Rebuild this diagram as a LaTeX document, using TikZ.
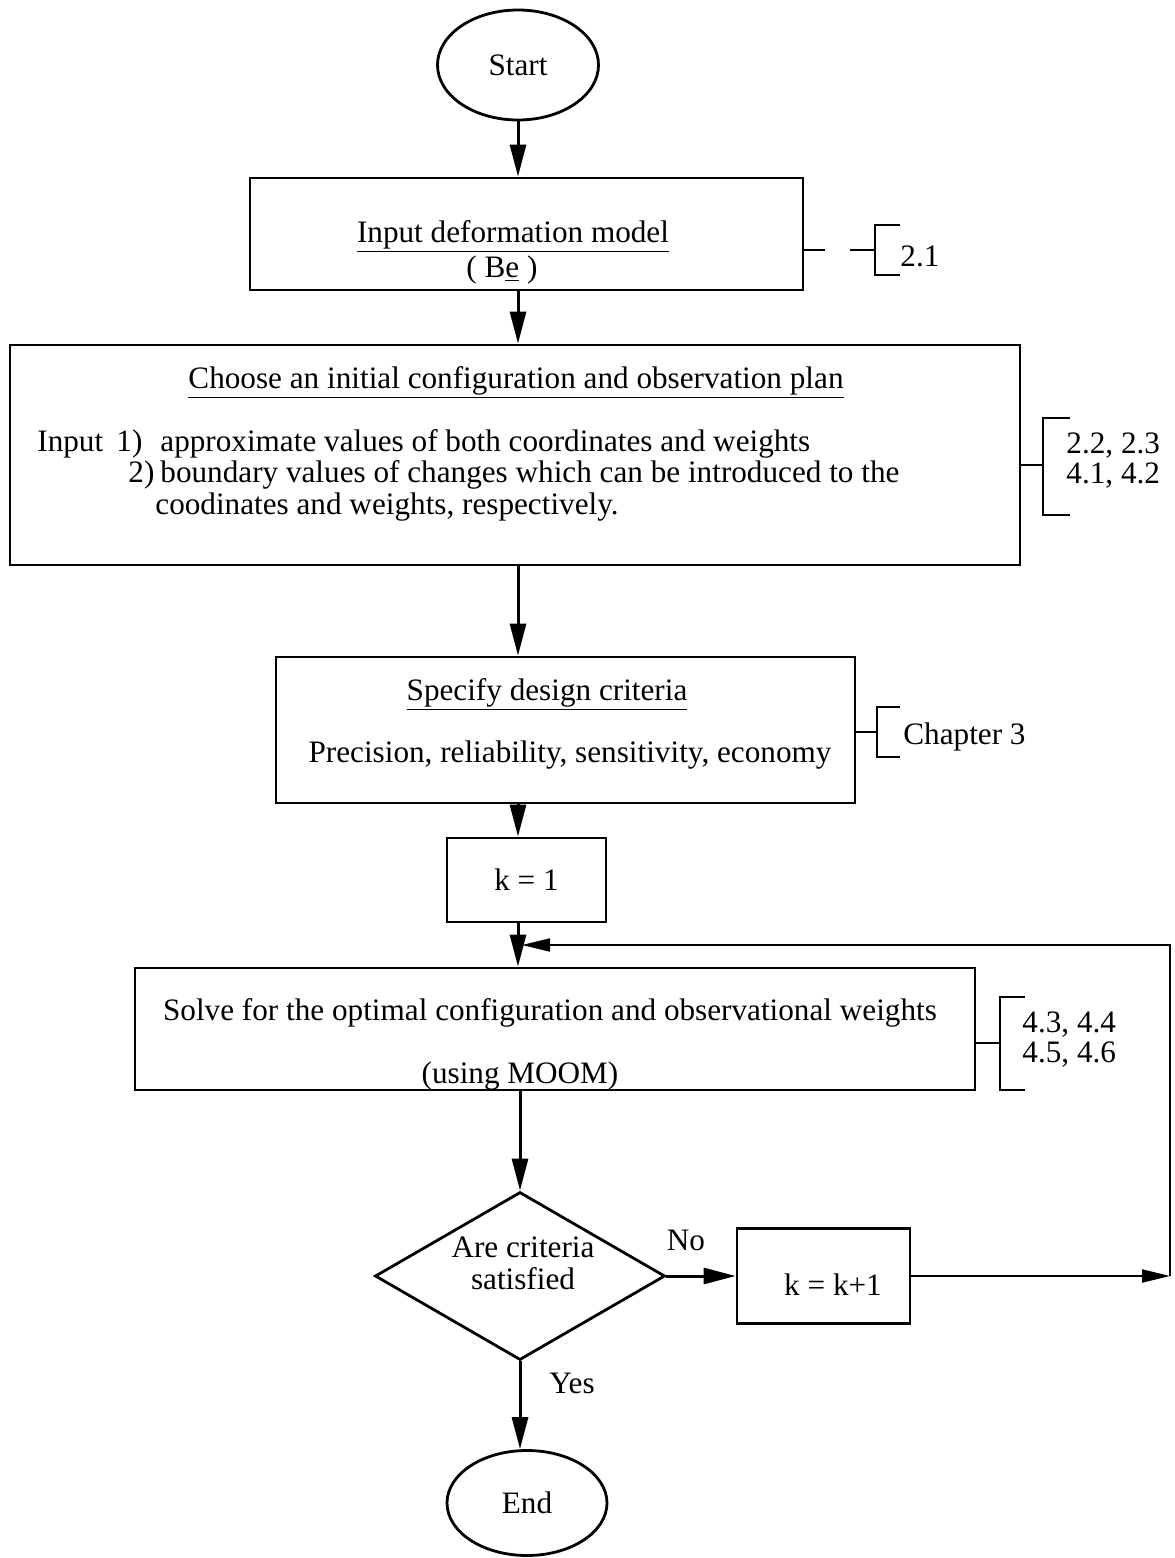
\documentclass[tikz,border=0pt]{standalone}
\usepackage{fontspec}
\setmainfont{Liberation Serif}
\usetikzlibrary{shapes.geometric,arrows.meta}

\begin{document}
\begin{tikzpicture}[x=0.5pt, y=-0.5pt,
    every node/.style = {font=\fontsize{15.6}{16}\selectfont, inner sep=0pt},
    term/.style = {ellipse, draw, line width=1.4pt},
    stepbox/.style = {rectangle, draw, line width=1.4pt},
    decide/.style = {diamond, draw, line width=1.4pt, aspect=1.73},
    arr/.style = {line width=1.5pt, -{Triangle[length=16pt,width=8pt]}},
    backarr/.style = {line width=1pt, -{Triangle[length=14pt,width=6.5pt]}},
    brk/.style = {line width=1pt}]
  \useasboundingbox (0,0) rectangle (1174,1558);

  % flow boxes
  \node[term, minimum width=80.5pt, minimum height=55pt] (start) at (518,65) {Start};
  \node[stepbox, minimum width=276.5pt, minimum height=56pt] (model) at (526.5,234) {};
  \node[anchor=base] (modeltxt) at (513,242) {\underline{Input deformation model}};
  \node[anchor=base] (modelvar) at (502,277) {( B\underline{e} )};

  \node[stepbox, minimum width=505pt, minimum height=110pt] (plan) at (515,455) {};
  \node[anchor=base] (plantitle) at (516,388) {\underline{Choose an initial configuration and observation plan}};
  \node[anchor=base west] (inputlbl) at (37,451) {Input};
  \node[anchor=base west] (itemone) at (116,451) {1)};
  \node[anchor=base west] (itemtwo) at (128,482) {2)};
  \node[anchor=base west] (approx) at (160,451) {approximate values of both coordinates and weights};
  \node[anchor=base west] (bound) at (160,482) {boundary values of changes which can be introduced to the};
  \node[anchor=base west] (boundmore) at (155,514) {coodinates and weights, respectively.};

  \node[stepbox, minimum width=289.5pt, minimum height=73pt] (crit) at (565.5,730) {};
  \node[anchor=base] (crittitle) at (547,700) {\underline{Specify design criteria}};
  \node[anchor=base] (critlist) at (570,762) {Precision, reliability, sensitivity, economy};

  \node[stepbox, minimum width=79.5pt, minimum height=42pt] (kone) at (526.5,880) {k = 1};

  \node[stepbox, minimum width=420pt, minimum height=61pt] (solve) at (555,1029) {};
  \node[anchor=base] (solvetxt) at (550,1020) {Solve for the optimal configuration and observational weights};
  \node[anchor=base] (moom) at (520,1083) {(using MOOM)};

  \node[decide, minimum width=145pt, minimum height=84pt] (check) at (520,1276) {};
  \node[align=center] (checktxt) at (523,1263) {Are criteria\\satisfied};
  \node[stepbox, minimum width=86.5pt, minimum height=47.5pt] (knext) at (823.5,1276) {};
  \node (knexttxt) at (833,1285) {k = k+1};
  \node[term, minimum width=80pt, minimum height=52.5pt] (finish) at (527,1503) {End};

  \node (nolbl) at (686,1240) {No};
  \node (yeslbl) at (572,1383) {Yes};

  % section references
  \node[anchor=west] (refone) at (900,256) {2.1};
  \node[anchor=west, align=left, font=\fontsize{15.6}{15}\selectfont] (reftwo) at (1066,461) {2.2, 2.3\\4.1, 4.2};
  \node[anchor=west] (refthree) at (903,737) {Chapter 3};
  \node[anchor=west, align=left, font=\fontsize{15.6}{15}\selectfont] (reffour) at (1022,1040) {4.3, 4.4\\4.5, 4.6};

  \coordinate (rc) at (1170,1276);
  \coordinate (tc) at (1170,945);
  \coordinate (jn) at (522,945);

  % connectors
  \draw[arr] (start) -- (start |- model.north);
  \draw[arr] (start |- model.south) -- (start |- plan.north);
  \draw[arr] (start |- plan.south) -- (start |- crit.north);
  \draw[arr] (start |- crit.south) -- (start |- kone.north);
  \draw[arr] (start |- kone.south) -- (start |- solve.north);
  \draw[arr] (check |- solve.south) -- (check.north);
  \draw[arr] (check.east) -- (check.east -| knext.west);
  \draw[arr] (check.south) -- (check |- finish.north);
  \draw[backarr] (knext.east) -- (rc);
  \draw[backarr] (rc) -- (tc) -- (jn);

  % brackets
  \draw[brk] (model.east |- 0,250) -- (825,250);
  \draw[brk] (850,250) -- (875,250);
  \draw[brk] (900,225) -- (875,225) -- (875,275) -- (900,275);
  \draw[brk] (plan.east |- 0,465) -- (1043,465);
  \draw[brk] (1070,418) -- (1043,418) -- (1043,515) -- (1070,515);
  \draw[brk] (crit.east |- 0,732) -- (877,732);
  \draw[brk] (900,707) -- (877,707) -- (877,757) -- (900,757);
  \draw[brk] (solve.east |- 0,1043) -- (1000,1043);
  \draw[brk] (1025,997) -- (1000,997) -- (1000,1090) -- (1025,1090);
\end{tikzpicture}
\end{document}
